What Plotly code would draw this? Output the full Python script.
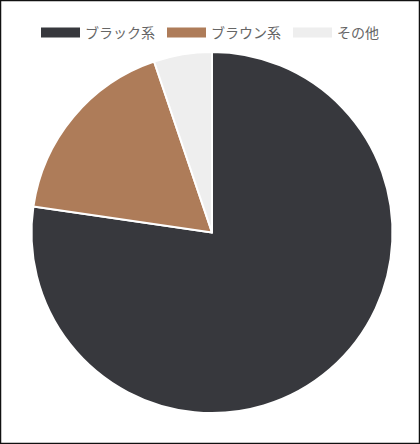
import plotly.graph_objects as go

# share of each colour group (percent)
labels = ['ブラック系', 'ブラウン系', 'その他']
values = [77.3, 17.5, 5.2]
colors = ['#37383d', '#ae7c59', '#eeeeee']


def legend_trace(name, color, width):
    # empty line trace, only used for its wide legend swatch
    return go.Scatter(
        x=[None],
        y=[None],
        mode='lines',
        name=name,
        line=dict(color=color, width=12),
        legendwidth=width,
        hoverinfo='skip'
    )


def main():
    pie = go.Pie(
        labels=labels,
        values=values,
        sort=False,
        direction='clockwise',
        rotation=0,
        textinfo='none',
        hoverinfo='label+percent',
        showlegend=False,
        marker=dict(
            colors=colors,
            line=dict(color='#ffffff', width=2)
        )
    )
    entry_widths = [72, 72, 40]
    data = [pie] + [legend_trace(n, c, w)
                    for n, c, w in zip(labels, colors, entry_widths)]

    layout = go.Layout(
        width=420,
        height=444,
        paper_bgcolor='#ffffff',
        plot_bgcolor='#ffffff',
        margin=dict(l=31, r=27, t=52, b=31),
        font=dict(family='Noto Sans CJK JP', size=14, color='#666666'),
        xaxis=dict(visible=False),
        yaxis=dict(visible=False),
        showlegend=True,
        legend=dict(
            orientation='h',
            x=5 / 362,
            xanchor='left',
            y=1 + 19 / 361,
            yanchor='middle',
            itemwidth=39,
            font=dict(size=14, color='#666666')
        ),
        shapes=[
            # outer frame round the whole picture
            dict(
                type='rect',
                xref='paper', yref='paper',
                x0=-30.5 / 362, x1=1 + 26.5 / 362,
                y0=-30.5 / 361, y1=1 + 51.5 / 361,
                line=dict(color='#111111', width=1.5)
            )
        ]
    )

    fig = go.Figure(data=data, layout=layout)
    fig.write_html('out.html',
                   config={'displayModeBar': False},
                   post_script="document.body.style.margin='0';")


if __name__ == '__main__':
    main()
